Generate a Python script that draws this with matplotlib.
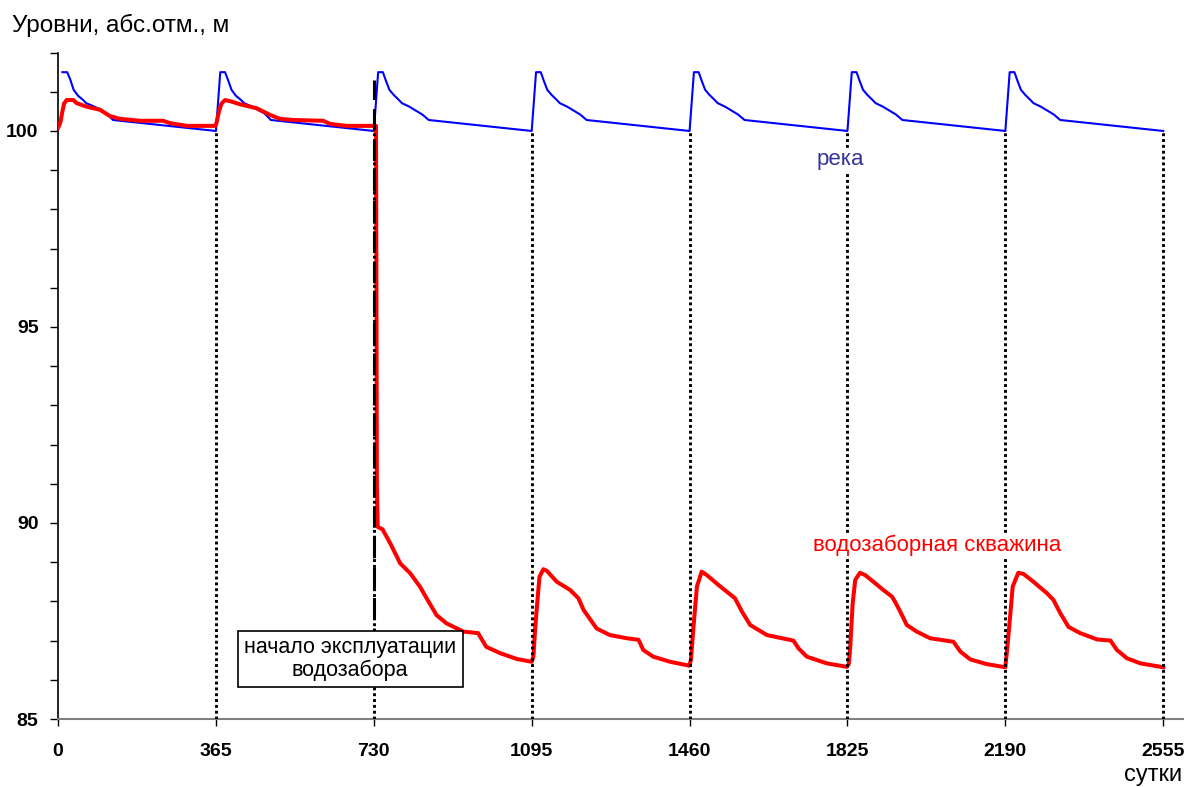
import matplotlib
matplotlib.use('Agg')
import matplotlib.pyplot as plt

plt.rcParams['font.family'] = ['Liberation Sans', 'DejaVu Sans']

# уровень реки (сутки, м)
river_t = [10, 21, 28, 36, 46, 58, 65, 82, 100, 112, 127,
           365, 375, 386, 393, 401, 411, 423, 430, 447, 465, 477, 492,
           730, 740, 751, 758, 766, 776, 788, 795, 812, 830, 842, 857,
           1095, 1105, 1116, 1123, 1131, 1141, 1153, 1160, 1177, 1195, 1207, 1222,
           1460, 1470, 1481, 1488, 1496, 1506, 1518, 1525, 1542, 1560, 1572, 1587,
           1825, 1835, 1846, 1853, 1861, 1871, 1883, 1890, 1907, 1925, 1937, 1952,
           2190, 2200, 2211, 2218, 2226, 2236, 2248, 2255, 2272, 2290, 2302, 2317,
           2555]
river_h = [101.5, 101.5, 101.32, 101.05, 100.9, 100.79, 100.71, 100.63, 100.54, 100.45, 100.28,
           100.0, 101.5, 101.5, 101.3, 101.05, 100.9, 100.79, 100.71, 100.63, 100.52, 100.45, 100.28,
           100.0, 101.5, 101.5, 101.28, 101.05, 100.92, 100.79, 100.71, 100.62, 100.5, 100.42, 100.28,
           100.0, 101.5, 101.5, 101.28, 101.05, 100.92, 100.79, 100.71, 100.62, 100.5, 100.42, 100.28,
           100.0, 101.5, 101.5, 101.28, 101.05, 100.92, 100.79, 100.71, 100.62, 100.5, 100.42, 100.28,
           100.0, 101.5, 101.5, 101.28, 101.05, 100.92, 100.79, 100.71, 100.62, 100.5, 100.42, 100.28,
           100.0, 101.5, 101.5, 101.28, 101.05, 100.92, 100.79, 100.71, 100.62, 100.5, 100.42, 100.28,
           100.0]

# уровень в водозаборной скважине (сутки, м)
well_t = [0, 3, 6, 10, 14, 20, 35, 43, 66, 97, 120, 143, 190, 243, 259, 298, 364,
          367, 372, 378, 386, 401, 421, 459, 490, 513, 544, 613, 629, 667, 735,
          736, 737, 739, 750, 768, 791, 814, 837, 852, 875, 898, 937, 971, 990, 1022, 1061, 1095,
          1099, 1103, 1107, 1113, 1122, 1130, 1153, 1184, 1203, 1215, 1245, 1276, 1315, 1342,
          1353, 1376, 1415, 1459,
          1463, 1469, 1477, 1488, 1500, 1531, 1565, 1581, 1600, 1639, 1700, 1712, 1731, 1777, 1824,
          1828, 1831, 1837, 1843, 1854, 1866, 1885, 1908, 1928, 1935, 1947, 1962, 1985, 2016, 2070,
          2086, 2109, 2147, 2190,
          2194, 2201, 2207, 2220, 2232, 2255, 2286, 2301, 2317, 2336, 2363, 2402, 2433, 2448, 2471,
          2502, 2555]
well_h = [100.08, 100.15, 100.25, 100.5, 100.7, 100.79, 100.79, 100.71, 100.62, 100.54, 100.38,
          100.31, 100.26, 100.26, 100.2, 100.13, 100.13,
          100.24, 100.5, 100.7, 100.79, 100.75, 100.68, 100.58, 100.41, 100.31, 100.28, 100.26,
          100.18, 100.13, 100.13,
          96.0, 91.0, 89.9, 89.84, 89.48, 88.97, 88.72, 88.37, 88.08, 87.65, 87.44, 87.23, 87.19,
          86.84, 86.68, 86.53, 86.46,
          86.6, 87.3, 87.86, 88.63, 88.82, 88.78, 88.5, 88.29, 88.08, 87.78, 87.31, 87.14, 87.06,
          87.02, 86.76, 86.59, 86.46, 86.36,
          86.5, 87.35, 88.38, 88.76, 88.67, 88.38, 88.08, 87.74, 87.4, 87.14, 87.0, 86.8, 86.59,
          86.42, 86.33,
          86.4, 86.76, 87.95, 88.55, 88.73, 88.67, 88.5, 88.29, 88.12, 87.99, 87.74, 87.4, 87.23,
          87.06, 86.97, 86.72, 86.52, 86.4, 86.32,
          86.76, 87.61, 88.38, 88.73, 88.7, 88.5, 88.21, 88.04, 87.7, 87.35, 87.19, 87.03, 87.0,
          86.76, 86.55, 86.42, 86.32]

years = [365, 730, 1095, 1460, 1825, 2190, 2555]
x_ticks = [0, 365, 730, 1095, 1460, 1825, 2190, 2555]
start_day = 730

fig = plt.figure(figsize=(12.02, 7.87), dpi=100)
ax = fig.add_axes([0.0483, 0.0864, 0.936, 0.8468])

# вертикальные линии по годам
for d in years:
    ax.plot([d, d], [85, 100], color='black', lw=2.1, ls=(0, (1, 1)), zorder=4)

ax.plot(river_t, river_h, color='#0000ff', lw=1.5, zorder=3)
ax.plot(well_t, well_h, color='#ff0000', lw=2.9, zorder=3)

# начало эксплуатации
ax.plot([start_day, start_day], [86.0, 101.3], color='black', lw=2.2, ls=(0, (7, 3)), zorder=3.5)

ax.set_xlim(0, 2601)
ax.set_ylim(85, 102)
ax.set_xticks(x_ticks)
ax.set_yticks([85, 90, 95, 100])
ax.set_yticks(range(85, 103), minor=True)

for s in ['top', 'right']:
    ax.spines[s].set_visible(False)
ax.spines['bottom'].set_color('#808080')
ax.spines['bottom'].set_linewidth(1.5)
ax.spines['left'].set_linewidth(1.2)

ax.tick_params(axis='x', direction='out', length=5, width=1, pad=12, labelsize=14)
ax.tick_params(axis='y', which='major', direction='out', length=6, width=1, pad=8, labelsize=14)
ax.tick_params(axis='y', which='minor', direction='out', length=6, width=1)
for lbl in ax.get_xticklabels() + ax.get_yticklabels():
    lbl.set_fontweight('bold')

fig.text(12 / 1202, 1 - 25 / 787, 'Уровни, абс.отм., м', fontsize=17.5, ha='left', va='center')
fig.text(1153 / 1202, 1 - 775 / 787, 'сутки', fontsize=17, ha='center', va='center')

ax.text(1808, 99.26, 'река', color='#333399', fontsize=16, ha='center', va='center',
        bbox=dict(facecolor='white', edgecolor='none', pad=1), zorder=5)
ax.text(2032, 89.44, 'водозаборная скважина', color='#ff0000', fontsize=16,
        ha='center', va='center',
        bbox=dict(facecolor='white', edgecolor='none', pad=1), zorder=5)
ax.text(675, 86.53, 'начало эксплуатации\nводозабора', fontsize=15.5, ha='center',
        va='center', linespacing=1.1,
        bbox=dict(facecolor='white', edgecolor='black', lw=1.2, boxstyle='square,pad=0.3'),
        zorder=6)

plt.savefig('out.png', dpi=100)
plt.close()
